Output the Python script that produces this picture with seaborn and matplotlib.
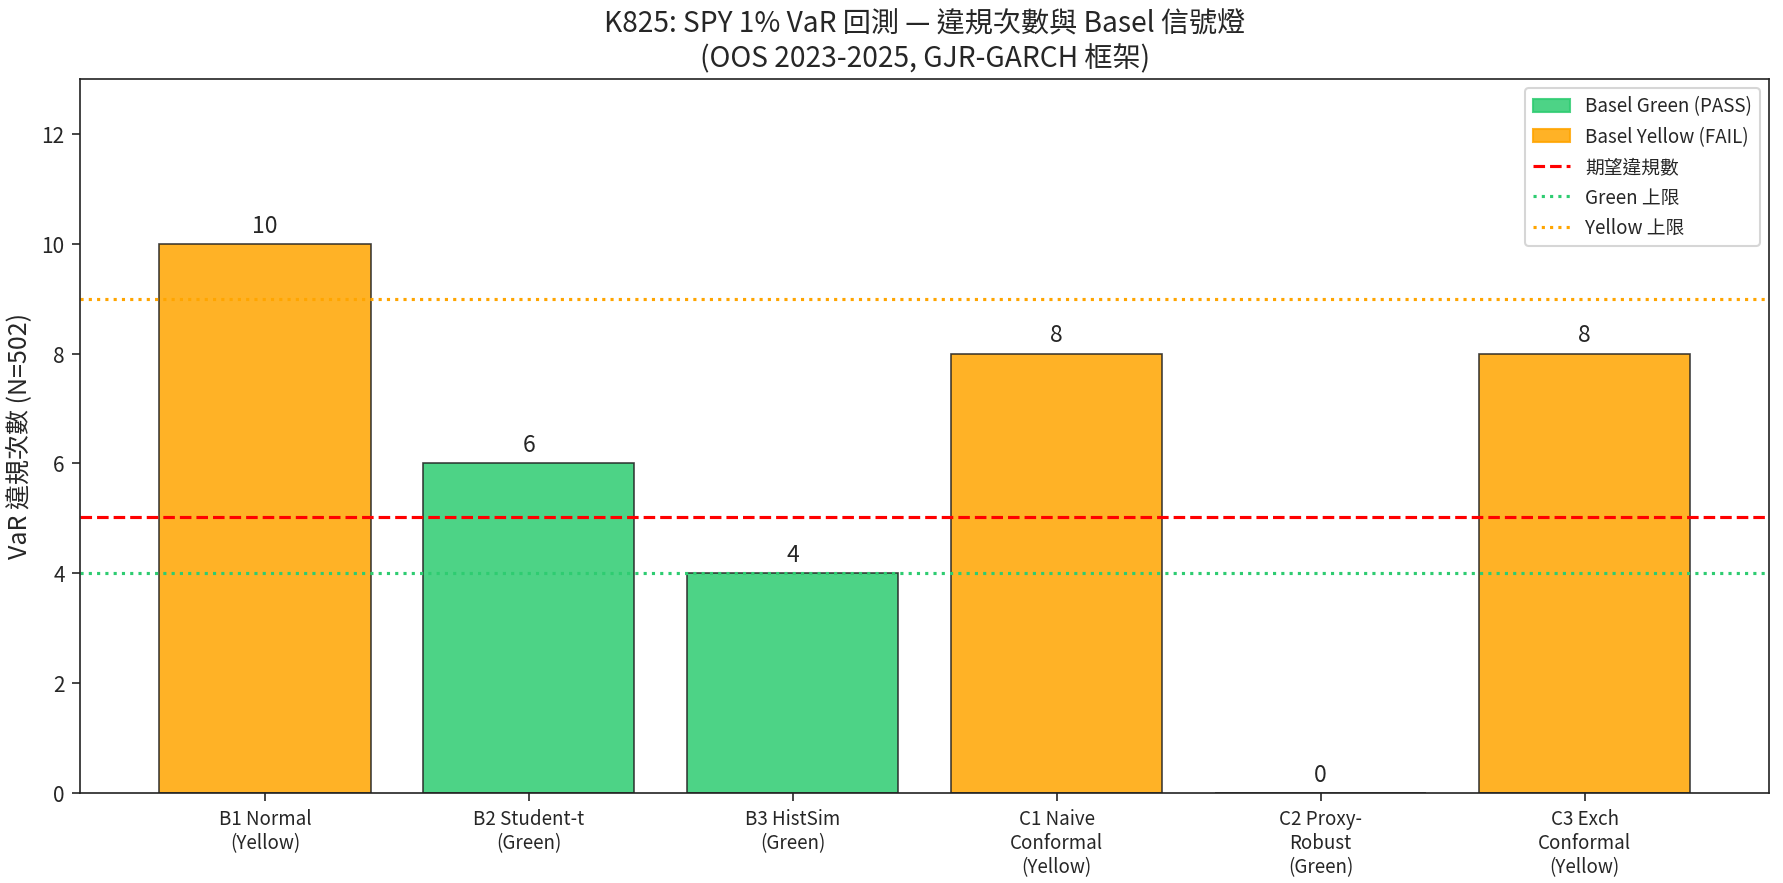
import matplotlib
matplotlib.use("Agg")
import matplotlib.pyplot as plt
from matplotlib.patches import Patch
import seaborn as sns
import pandas as pd

# data
methods = ['B1 Normal\n(Yellow)', 'B2 Student-t\n(Green)', 'B3 HistSim\n(Green)',
           'C1 Naive\nConformal\n(Yellow)', 'C2 Proxy-\nRobust\n(Green)',
           'C3 Exch\nConformal\n(Yellow)']
violations = [10, 6, 4, 8, 0, 8]
zones = ['Yellow', 'Green', 'Green', 'Yellow', 'Green', 'Yellow']
n_obs = 502
expected = 5.02
green_limit = 4
yellow_limit = 9

GREEN = '#2ecc71'
ORANGE = '#FFA500'


def plot_violations(df):
    sns.set_style('white')
    plt.rcParams['font.family'] = ['Noto Sans CJK TC', 'DejaVu Sans']
    plt.rcParams['axes.unicode_minus'] = False

    fig, ax = plt.subplots(figsize=(11.89, 5.89), dpi=150)
    pal = [GREEN if z == 'Green' else ORANGE for z in df['zone']]
    sns.barplot(data=df, x='method', y='violations', hue='method', palette=pal,
                legend=False, alpha=0.85, saturation=1, edgecolor='#222222',
                linewidth=0.8, width=0.8, ax=ax)

    for i, v in enumerate(df['violations']):
        ax.text(i, v + 0.12, str(v), ha='center', va='bottom', fontsize=11)

    ax.axhline(expected, color='red', linestyle='--', linewidth=1.5)
    ax.axhline(green_limit, color=GREEN, linestyle=':', linewidth=1.5)
    ax.axhline(yellow_limit, color=ORANGE, linestyle=':', linewidth=1.5)

    handles = [
        Patch(facecolor=GREEN, edgecolor=GREEN, alpha=0.85, label='Basel Green (PASS)'),
        Patch(facecolor=ORANGE, edgecolor=ORANGE, alpha=0.85, label='Basel Yellow (FAIL)'),
        plt.Line2D([], [], color='red', linestyle='--', linewidth=1.5, label='期望違規數'),
        plt.Line2D([], [], color=GREEN, linestyle=':', linewidth=1.5, label='Green 上限'),
        plt.Line2D([], [], color=ORANGE, linestyle=':', linewidth=1.5, label='Yellow 上限'),
    ]
    ax.legend(handles=handles, loc='upper right', fontsize=9)

    ax.set_xlim(-0.7, 5.7)
    ax.set_ylim(0, 13)
    ax.set_xlabel('')
    ax.set_ylabel(f'VaR 違規次數 (N={n_obs})', fontsize=12)
    ax.set_title('K825: SPY 1% VaR 回測 — 違規次數與 Basel 信號燈\n(OOS 2023-2025, GJR-GARCH 框架)',
                 fontsize=13.5)
    ax.tick_params(axis='x', labelsize=9, length=4, bottom=True)
    ax.tick_params(axis='y', labelsize=10, length=4, left=True)
    for s in ax.spines.values():
        s.set_color('#222222')

    fig.subplots_adjust(left=0.045, right=0.992, top=0.91, bottom=0.102)
    fig.savefig('out.png', dpi=150)


def main():
    df = pd.DataFrame({'method': methods, 'violations': violations, 'zone': zones})
    plot_violations(df)


if __name__ == "__main__":
    main()
